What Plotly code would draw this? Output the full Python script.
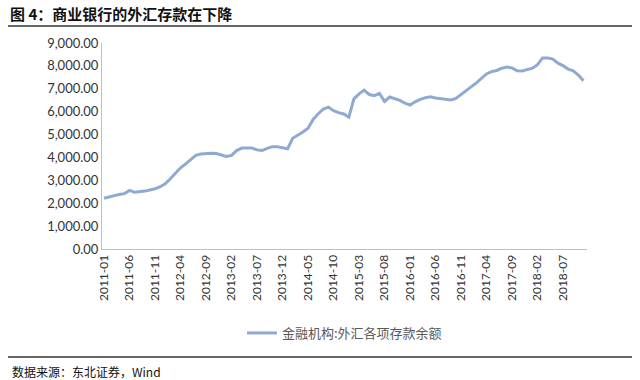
import pandas as pd
import plotly.graph_objects as go

# Monthly categories 2011-01 .. 2018-11
months = [d.strftime("%Y-%m") for d in pd.date_range("2011-01-01", "2018-11-01", freq="MS")]

# 金融机构:外汇各项存款余额
deposits = [
    2220, 2280, 2340, 2385, 2420, 2560, 2480, 2490, 2530, 2580, 2630, 2720,
    2850, 3070, 3320, 3550, 3720, 3900, 4090, 4150, 4175, 4180, 4175, 4110,
    4040, 4090, 4300, 4410, 4420, 4410, 4330, 4300, 4400, 4470, 4470, 4440,
    4380, 4840, 4960, 5110, 5280, 5660, 5910, 6110, 6200, 6040, 5960, 5900,
    5760, 6560, 6780, 6940, 6750, 6700, 6800, 6450, 6640, 6570, 6490, 6370,
    6290, 6430, 6540, 6610, 6650, 6600, 6560, 6520, 6510, 6580, 6740, 6940,
    7100, 7260, 7450, 7650, 7750, 7800, 7900, 7950, 7910, 7790, 7780, 7840,
    7900, 8050, 8350, 8350, 8300, 8120, 8010, 7860, 7780, 7600, 7350,
]

tick_labels = months[::5]
y_ticks = [0, 1000, 2000, 3000, 4000, 5000, 6000, 7000, 8000, 9000]

title_text = "图 4：商业银行的外汇存款在下降"
source_text = "数据来源：东北证券，Wind"
series_name = "金融机构:外汇各项存款余额"

fig = go.Figure()
fig.add_trace(go.Scatter(
    x=months, y=deposits, mode="lines", name=series_name,
    line=dict(color="#8FAAD2", width=3),
))

W, H = 640, 380
L, R, T, B = 102, 53, 43, 131
pw, ph = W - L - R, H - T - B

def px_x(x):
    return (x - L) / pw

def px_y(y):
    return (H - B - y) / ph

fig.update_layout(
    width=W, height=H,
    margin=dict(l=L, r=R, t=T, b=B),
    paper_bgcolor="white", plot_bgcolor="white",
    showlegend=True,
    legend=dict(
        orientation="h", x=0.5, xanchor="center", y=px_y(333), yanchor="middle",
        font=dict(family="Noto Sans CJK SC", size=13, color="#595959"),
        itemwidth=30,
    ),
    xaxis=dict(
        type="category", range=[-0.4, 94.7],
        tickmode="array", tickvals=tick_labels, ticktext=tick_labels,
        tickangle=-90, showgrid=False, zeroline=False,
        showline=True, linecolor="#BFBFBF", linewidth=1,
        ticks="", tickfont=dict(family="Lato", size=12, color="#333333"),
    ),
    yaxis=dict(
        range=[0, 9000], tickmode="array", tickvals=y_ticks, tickformat=",.2f",
        showgrid=False, zeroline=False,
        showline=True, linecolor="#BFBFBF", linewidth=1,
        ticks="", ticklen=0, tickfont=dict(family="Lato", size=13, color="#333333"),
    ),
    font=dict(family="Noto Sans CJK SC"),
)

fig.add_annotation(
    text="<b>" + title_text + "</b>", xref="paper", yref="paper",
    x=px_x(8), y=px_y(13), xanchor="left", yanchor="middle", showarrow=False,
    font=dict(family="Noto Sans CJK SC", size=15, color="#111111"),
)
fig.add_annotation(
    text=source_text, xref="paper", yref="paper",
    x=px_x(10), y=px_y(371), xanchor="left", yanchor="middle", showarrow=False,
    font=dict(family="Noto Sans CJK SC", size=12, color="#111111"),
)
fig.add_shape(type="line", xref="paper", yref="paper",
              x0=px_x(8), x1=px_x(632), y0=px_y(26), y1=px_y(26),
              line=dict(color="#333333", width=1.5))
fig.add_shape(type="line", xref="paper", yref="paper",
              x0=px_x(8), x1=px_x(632), y0=px_y(357), y1=px_y(357),
              line=dict(color="#333333", width=1.5))

fig.write_html(
    "out.html",
    config={"displayModeBar": False},
    post_script="document.body.style.margin='0';document.body.style.overflow='hidden';",
)
